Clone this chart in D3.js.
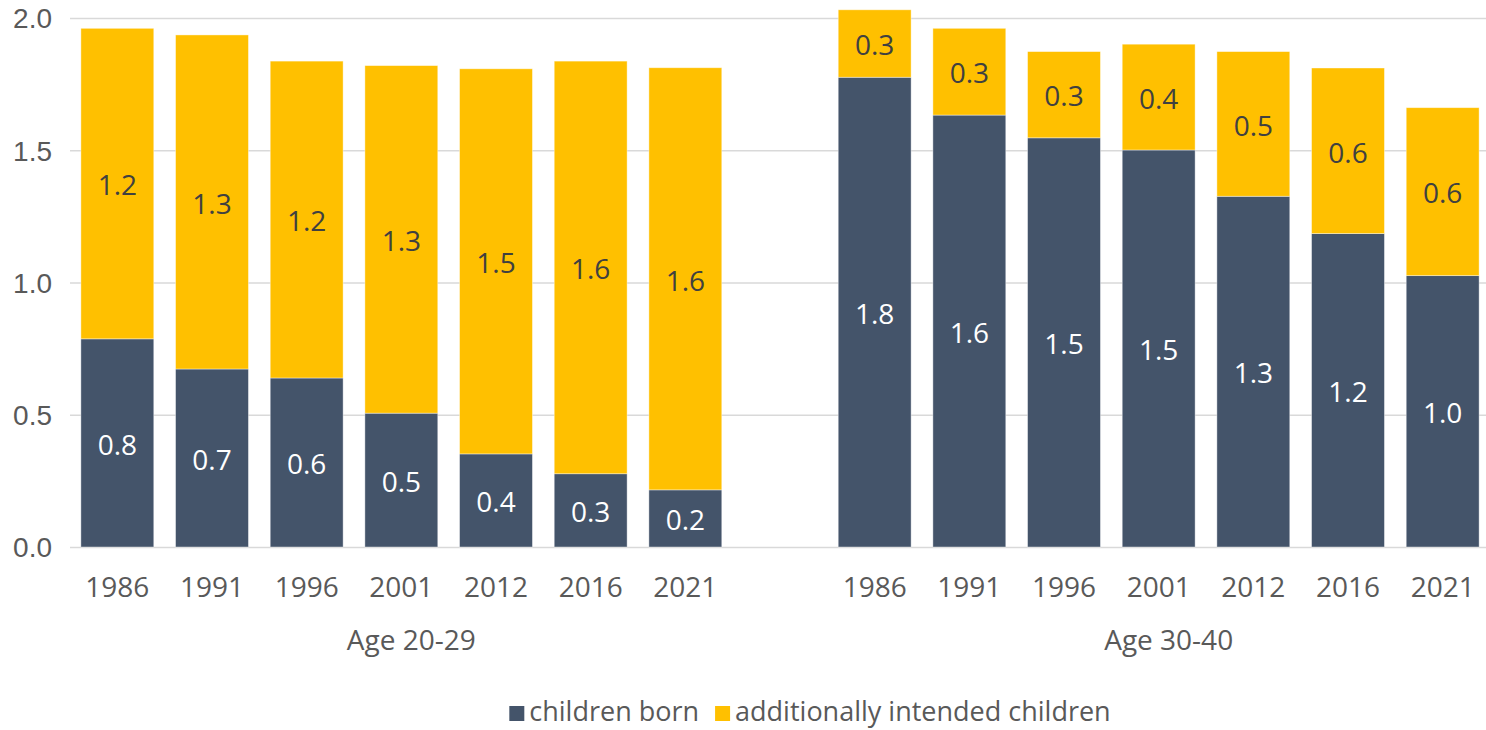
<!DOCTYPE html>
<html>
<head>
<meta charset="utf-8">
<script src="https://cdn.jsdelivr.net/npm/d3@7"></script>
<style>
  html, body { margin: 0; padding: 0; background: #fff; }
  svg { display: block; font-family: "Open Sans", "Noto Sans", sans-serif; }
</style>
</head>
<body>
<svg id="chart" width="1486" height="730"></svg>
<script>
// Average number of children: already born vs. additionally intended, by survey year and age group
const years = ["1986", "1991", "1996", "2001", "2012", "2016", "2021"];
const groups = ["Age 20-29", "Age 30-40"];
const seriesNames = ["children born", "additionally intended children"];
const bornYoung = [0.787, 0.673, 0.639, 0.506, 0.352, 0.277, 0.216];
const addYoung  = [1.174, 1.263, 1.198, 1.314, 1.456, 1.560, 1.596];
const bornOld   = [1.776, 1.633, 1.547, 1.501, 1.326, 1.185, 1.026];
const addOld    = [0.255, 0.328, 0.326, 0.400, 0.547, 0.626, 0.635];
const yTicks = [0, 0.5, 1.0, 1.5, 2.0];

const colors = { born: "#44546A", add: "#FFC000" };
const textGrey = "#595959";

const W = 1486, H = 730;
const margin = { left: 70, right: -4, top: 18, bottom: 183 };
const svg = d3.select("#chart");

// One row per bar; an empty spacer slot separates the two age groups
const rows = [];
[[bornYoung, addYoung], [bornOld, addOld]].forEach(([born, add], gi) => {
  years.forEach((yr, i) => rows.push({ key: groups[gi] + "|" + yr, group: groups[gi], year: yr, born: born[i], add: add[i] }));
});
const keys = [...rows.filter(r => r.group === groups[0]).map(r => r.key), "spacer",
              ...rows.filter(r => r.group === groups[1]).map(r => r.key)];

const x = d3.scaleBand().domain(keys)
  .range([margin.left, W - margin.right])
  .paddingInner(0.23).paddingOuter(0.115);
const y = d3.scaleLinear().domain([0, 2]).range([H - margin.bottom, margin.top]);

// Gridlines + y labels
const yAxis = svg.append("g")
  .attr("transform", `translate(${margin.left},0)`)
  .call(d3.axisLeft(y).tickValues(yTicks).tickFormat(d3.format(".1f"))
    .tickSize(-(W - margin.left)).tickPadding(18));
yAxis.select(".domain").remove();
yAxis.selectAll(".tick line").attr("stroke", "#d9d9d9").attr("stroke-width", 1.6);
yAxis.selectAll(".tick text").attr("fill", textGrey).style("font-size", "28px").attr("dy", "0.35em");

// Stacked bars
const stack = d3.stack().keys(["born", "add"]);
const layers = stack(rows);
const bars = svg.append("g");
layers.forEach(layer => {
  bars.selectAll(null).data(layer).enter().append("rect")
    .attr("x", d => x(d.data.key))
    .attr("width", x.bandwidth())
    .attr("y", d => y(d[1]))
    .attr("height", d => y(d[0]) - y(d[1]))
    .attr("fill", colors[layer.key])
    .attr("stroke", "#ffffff")
    .attr("stroke-opacity", 0.5)
    .attr("stroke-width", 0.8);
});

// Value labels centred in each segment
const fmt = d3.format(".1f");
const labels = svg.append("g").attr("text-anchor", "middle").style("font-size", "28px");
layers.forEach(layer => {
  labels.selectAll(null).data(layer).enter().append("text")
    .attr("x", d => x(d.data.key) + x.bandwidth() / 2)
    .attr("y", d => (y(d[0]) + y(d[1])) / 2)
    .attr("dy", "0.42em")
    .attr("fill", layer.key === "born" ? "#ffffff" : "#404040")
    .text(d => fmt(d.data[layer.key]));
});

// Year labels
const xAxis = svg.append("g")
  .attr("transform", `translate(0,${y(0)})`)
  .call(d3.axisBottom(x).tickSize(0).tickPadding(30)
    .tickFormat(k => k === "spacer" ? "" : k.split("|")[1]));
xAxis.select(".domain").remove();
xAxis.selectAll(".tick text").attr("fill", textGrey).style("font-size", "28px")
  .style("font-family", "'Open Sans', 'Noto Sans', sans-serif");

// Group labels
svg.append("g").selectAll("text").data(groups).enter().append("text")
  .attr("x", g => {
    const ks = keys.filter(k => k.startsWith(g + "|"));
    return (x(ks[0]) + x(ks[ks.length - 1]) + x.bandwidth()) / 2 + 10;
  })
  .attr("y", 650)
  .attr("text-anchor", "middle")
  .attr("fill", textGrey)
  .style("font-size", "28px")
  .text(g => g);

// Legend
const legend = svg.append("g").style("font-size", "27px");
const legendItems = legend.selectAll("g").data(seriesNames).enter().append("g");
legendItems.append("rect").attr("width", 15).attr("height", 15).attr("y", 706)
  .attr("fill", (d, i) => i === 0 ? colors.born : colors.add);
legendItems.append("text").attr("x", 20).attr("y", 721).attr("fill", textGrey).text(d => d);
const widths = [];
legendItems.each(function () { widths.push(this.getBBox().width); });
const gap = 16;
const total = d3.sum(widths) + gap * (widths.length - 1);
let cursor = 810 - total / 2;
legendItems.attr("transform", (d, i) => {
  const t = `translate(${cursor},0)`;
  cursor += widths[i] + gap;
  return t;
});
</script>
</body>
</html>
